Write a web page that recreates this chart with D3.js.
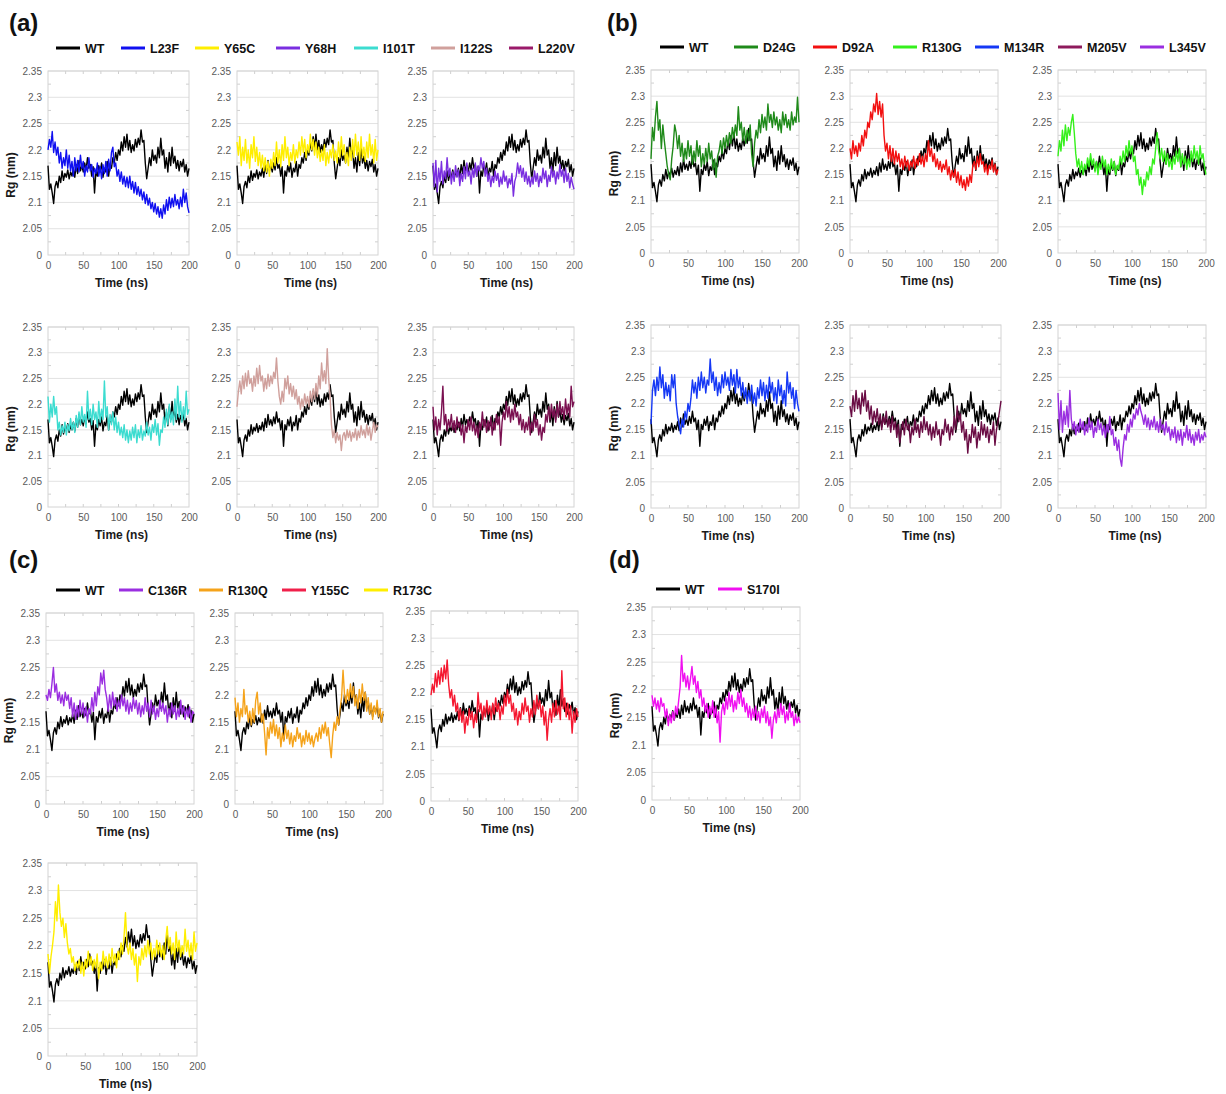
<!DOCTYPE html>
<html><head><meta charset="utf-8">
<script src="https://cdn.jsdelivr.net/npm/d3@7"></script>
<style>
body{margin:0;background:#fff;}
text{font-family:"Liberation Sans",Arial,sans-serif;}
</style></head>
<body>
<script>
// ---------------- DATA ----------------
const time = d3.range(0, 201, 2); // ns
const xTicks = [0, 50, 100, 150, 200];
const yTicks = [2.0, 2.05, 2.1, 2.15, 2.2, 2.25, 2.3, 2.35];
const yTickLabels = ["0", "2.05", "2.1", "2.15", "2.2", "2.25", "2.3", "2.35"];

const wt = [2.170,2.125,2.135,2.118,2.098,2.130,2.140,2.128,2.150,2.138,2.160,2.142,2.155,2.148,2.162,2.145,2.158,2.150,2.165,2.148,
2.172,2.155,2.180,2.160,2.170,2.158,2.175,2.162,2.185,2.165,2.172,2.150,2.168,2.118,2.160,2.150,2.170,2.158,2.175,2.148,
2.165,2.158,2.178,2.150,2.172,2.165,2.185,2.175,2.195,2.180,2.200,2.190,2.215,2.198,2.225,2.205,2.230,2.200,2.218,2.195,
2.210,2.198,2.220,2.205,2.222,2.210,2.238,2.215,2.218,2.175,2.145,2.165,2.185,2.170,2.200,2.180,2.190,2.175,2.205,2.185,
2.222,2.190,2.200,2.165,2.185,2.158,2.195,2.170,2.205,2.175,2.188,2.165,2.180,2.160,2.178,2.168,2.182,2.158,2.172,2.150,2.165];

const l23f = [2.200,2.220,2.205,2.235,2.195,2.215,2.190,2.205,2.175,2.195,2.165,2.185,2.170,2.200,2.165,2.190,2.160,2.178,2.150,2.185,
2.160,2.180,2.158,2.190,2.165,2.178,2.150,2.170,2.158,2.185,2.160,2.172,2.148,2.165,2.155,2.175,2.150,2.168,2.145,2.172,
2.155,2.178,2.150,2.182,2.160,2.195,2.205,2.168,2.175,2.150,2.162,2.140,2.158,2.135,2.150,2.130,2.148,2.128,2.150,2.125,
2.140,2.118,2.138,2.115,2.130,2.112,2.125,2.105,2.120,2.098,2.115,2.095,2.108,2.088,2.100,2.082,2.098,2.078,2.092,2.072,
2.088,2.070,2.095,2.078,2.105,2.085,2.110,2.090,2.108,2.092,2.115,2.095,2.105,2.088,2.110,2.092,2.125,2.100,2.118,2.092,2.080];

const y65c = [2.215,2.190,2.225,2.170,2.205,2.180,2.220,2.175,2.200,2.165,2.210,2.185,2.225,2.178,2.205,2.170,2.195,2.165,2.190,2.160,
2.185,2.158,2.178,2.150,2.182,2.165,2.195,2.170,2.215,2.175,2.200,2.168,2.210,2.180,2.225,2.185,2.205,2.170,2.195,2.180,
2.210,2.175,2.200,2.185,2.215,2.190,2.225,2.195,2.220,2.185,2.210,2.195,2.230,2.200,2.220,2.190,2.215,2.185,2.205,2.178,
2.200,2.180,2.210,2.170,2.195,2.175,2.200,2.185,2.210,2.180,2.198,2.175,2.215,2.185,2.225,2.190,2.210,2.175,2.195,2.170,
2.205,2.180,2.220,2.185,2.230,2.190,2.215,2.180,2.225,2.185,2.205,2.178,2.215,2.185,2.230,2.190,2.210,2.175,2.220,2.180,2.200];

const y68h = [2.175,2.130,2.180,2.120,2.165,2.140,2.178,2.135,2.160,2.145,2.185,2.150,2.165,2.135,2.158,2.140,2.170,2.148,2.162,2.132,
2.155,2.140,2.168,2.145,2.175,2.150,2.160,2.135,2.165,2.148,2.175,2.150,2.170,2.160,2.185,2.165,2.178,2.150,2.165,2.140,
2.155,2.130,2.150,2.138,2.160,2.142,2.155,2.130,2.148,2.135,2.160,2.140,2.150,2.128,2.145,2.135,2.155,2.112,2.140,2.150,
2.175,2.155,2.170,2.148,2.165,2.140,2.158,2.135,2.150,2.130,2.148,2.135,2.160,2.140,2.155,2.130,2.150,2.138,2.165,2.145,
2.160,2.130,2.152,2.140,2.168,2.148,2.160,2.135,2.158,2.145,2.172,2.150,2.162,2.138,2.165,2.140,2.155,2.128,2.148,2.135,2.125];

const i101t = [2.215,2.165,2.200,2.175,2.215,2.180,2.195,2.150,2.165,2.140,2.158,2.145,2.165,2.140,2.160,2.148,2.172,2.150,2.165,2.145,
2.178,2.155,2.185,2.160,2.195,2.165,2.180,2.155,2.225,2.170,2.190,2.160,2.200,2.170,2.185,2.155,2.205,2.165,2.190,2.170,
2.245,2.175,2.195,2.150,2.180,2.160,2.185,2.150,2.175,2.145,2.165,2.140,2.155,2.135,2.160,2.130,2.150,2.125,2.148,2.130,
2.155,2.135,2.160,2.125,2.150,2.135,2.158,2.130,2.148,2.138,2.165,2.140,2.155,2.130,2.160,2.145,2.170,2.140,2.162,2.120,
2.150,2.145,2.175,2.155,2.190,2.160,2.200,2.165,2.185,2.160,2.210,2.170,2.235,2.175,2.205,2.165,2.195,2.170,2.225,2.180,2.190];

const i122s = [2.195,2.225,2.245,2.220,2.255,2.230,2.260,2.235,2.265,2.240,2.250,2.225,2.255,2.235,2.270,2.240,2.275,2.245,2.255,2.225,
2.250,2.230,2.258,2.235,2.255,2.240,2.262,2.250,2.290,2.245,2.215,2.200,2.225,2.205,2.250,2.230,2.255,2.220,2.240,2.215,
2.235,2.210,2.228,2.200,2.215,2.190,2.210,2.195,2.220,2.200,2.215,2.195,2.225,2.205,2.230,2.210,2.240,2.215,2.255,2.230,
2.280,2.245,2.265,2.240,2.308,2.250,2.215,2.160,2.135,2.150,2.125,2.145,2.130,2.140,2.110,2.138,2.145,2.130,2.150,2.135,
2.148,2.128,2.145,2.135,2.152,2.130,2.148,2.135,2.158,2.140,2.150,2.135,2.160,2.140,2.155,2.130,2.148,2.165,2.145,2.160,2.155];

const l220v = [2.195,2.150,2.175,2.140,2.170,2.150,2.185,2.235,2.160,2.180,2.148,2.170,2.155,2.180,2.150,2.168,2.145,2.175,2.155,2.165,
2.140,2.160,2.125,2.158,2.145,2.170,2.150,2.175,2.148,2.165,2.140,2.158,2.135,2.165,2.150,2.185,2.155,2.170,2.145,2.168,
2.150,2.175,2.140,2.165,2.150,2.180,2.160,2.175,2.120,2.165,2.185,2.170,2.205,2.175,2.195,2.165,2.190,2.170,2.200,2.175,
2.185,2.160,2.180,2.150,2.170,2.145,2.165,2.150,2.175,2.140,2.165,2.148,2.180,2.155,2.170,2.140,2.160,2.130,2.155,2.145,
2.180,2.165,2.195,2.170,2.200,2.175,2.190,2.165,2.200,2.175,2.205,2.180,2.195,2.170,2.210,2.180,2.200,2.175,2.235,2.195,2.205];

const d24g = [2.180,2.240,2.215,2.260,2.290,2.235,2.255,2.200,2.245,2.215,2.190,2.165,2.150,2.140,2.180,2.205,2.245,2.230,2.200,2.225,
2.185,2.210,2.175,2.200,2.180,2.215,2.185,2.205,2.170,2.195,2.175,2.215,2.185,2.205,2.165,2.190,2.170,2.200,2.175,2.210,
2.180,2.195,2.160,2.180,2.145,2.185,2.195,2.215,2.190,2.220,2.200,2.225,2.205,2.230,2.210,2.240,2.220,2.245,2.225,2.280,
2.235,2.250,2.215,2.240,2.210,2.235,2.215,2.245,2.190,2.165,2.210,2.235,2.220,2.255,2.230,2.265,2.240,2.260,2.235,2.285,
2.250,2.265,2.240,2.270,2.245,2.260,2.235,2.255,2.230,2.270,2.245,2.265,2.240,2.255,2.235,2.270,2.245,2.260,2.250,2.298,2.250];

const d92a = [2.200,2.180,2.215,2.190,2.205,2.185,2.210,2.195,2.225,2.205,2.235,2.220,2.250,2.240,2.270,2.255,2.285,2.270,2.305,2.265,
2.290,2.260,2.285,2.225,2.195,2.210,2.180,2.205,2.175,2.200,2.170,2.195,2.175,2.190,2.165,2.180,2.160,2.185,2.165,2.178,
2.158,2.175,2.165,2.185,2.162,2.180,2.168,2.190,2.170,2.185,2.165,2.190,2.175,2.215,2.185,2.200,2.175,2.190,2.165,2.180,
2.160,2.175,2.155,2.170,2.160,2.178,2.150,2.165,2.140,2.158,2.145,2.160,2.135,2.155,2.130,2.148,2.125,2.140,2.120,2.145,
2.128,2.150,2.135,2.168,2.175,2.160,2.185,2.165,2.190,2.170,2.175,2.155,2.170,2.150,2.168,2.160,2.178,2.155,2.170,2.150,2.160];

const r130g = [2.185,2.215,2.195,2.235,2.205,2.245,2.215,2.240,2.225,2.250,2.265,2.230,2.190,2.165,2.180,2.155,2.175,2.150,2.170,2.160,
2.182,2.165,2.190,2.168,2.180,2.155,2.175,2.150,2.172,2.160,2.185,2.165,2.178,2.150,2.170,2.155,2.180,2.160,2.175,2.150,
2.168,2.160,2.185,2.170,2.195,2.175,2.205,2.185,2.215,2.190,2.205,2.175,2.185,2.150,2.160,2.130,2.145,2.112,2.140,2.128,
2.155,2.140,2.165,2.150,2.180,2.170,2.200,2.230,2.195,2.180,2.200,2.175,2.195,2.170,2.190,2.165,2.180,2.160,2.185,2.170,
2.195,2.175,2.200,2.165,2.190,2.170,2.185,2.160,2.180,2.165,2.195,2.175,2.205,2.180,2.195,2.170,2.205,2.180,2.190,2.165,2.150];

const m134r = [2.160,2.225,2.245,2.215,2.250,2.225,2.270,2.230,2.255,2.210,2.240,2.215,2.235,2.205,2.255,2.230,2.255,2.200,2.175,2.160,
2.142,2.170,2.155,2.185,2.170,2.200,2.185,2.210,2.245,2.220,2.240,2.210,2.250,2.225,2.260,2.230,2.250,2.220,2.245,2.235,
2.285,2.240,2.260,2.225,2.250,2.215,2.240,2.220,2.255,2.230,2.260,2.235,2.250,2.225,2.265,2.235,2.255,2.220,2.265,2.230,
2.250,2.215,2.240,2.210,2.230,2.200,2.225,2.205,2.235,2.200,2.220,2.195,2.230,2.210,2.245,2.215,2.240,2.205,2.235,2.210,
2.250,2.220,2.240,2.205,2.230,2.200,2.245,2.215,2.235,2.200,2.225,2.195,2.260,2.220,2.240,2.210,2.230,2.190,2.225,2.200,2.185];

const m205v = [2.195,2.175,2.215,2.185,2.225,2.190,2.210,2.180,2.220,2.195,2.225,2.185,2.205,2.170,2.195,2.160,2.185,2.165,2.190,2.160,
2.180,2.150,2.175,2.160,2.185,2.155,2.170,2.145,2.175,2.150,2.165,2.135,2.160,2.125,2.150,2.165,2.140,2.170,2.150,2.160,
2.125,2.155,2.140,2.170,2.145,2.160,2.135,2.165,2.145,2.175,2.150,2.165,2.140,2.160,2.130,2.155,2.135,2.165,2.140,2.150,
2.120,2.150,2.140,2.170,2.145,2.160,2.130,2.155,2.140,2.175,2.150,2.195,2.165,2.180,2.145,2.165,2.130,2.150,2.105,2.140,
2.125,2.160,2.135,2.155,2.115,2.145,2.130,2.165,2.140,2.160,2.135,2.155,2.125,2.150,2.140,2.165,2.120,2.150,2.165,2.185,2.205];

const l345v = [2.220,2.150,2.205,2.145,2.185,2.160,2.195,2.155,2.225,2.170,2.150,2.165,2.140,2.160,2.145,2.170,2.150,2.165,2.140,2.160,
2.145,2.172,2.150,2.165,2.135,2.155,2.145,2.170,2.150,2.162,2.140,2.158,2.135,2.160,2.145,2.175,2.140,2.150,2.120,2.135,
2.110,2.130,2.095,2.080,2.115,2.140,2.130,2.160,2.145,2.170,2.155,2.180,2.170,2.190,2.178,2.200,2.185,2.175,2.160,2.178,
2.155,2.172,2.150,2.168,2.155,2.175,2.150,2.165,2.145,2.170,2.150,2.160,2.140,2.165,2.145,2.155,2.130,2.150,2.135,2.155,
2.125,2.148,2.130,2.150,2.120,2.145,2.135,2.158,2.130,2.150,2.125,2.140,2.120,2.145,2.130,2.150,2.125,2.140,2.130,2.145,2.135];

const c136r = [2.200,2.190,2.210,2.195,2.220,2.250,2.205,2.220,2.190,2.205,2.185,2.200,2.180,2.205,2.190,2.200,2.175,2.195,2.160,2.185,
2.155,2.180,2.160,2.190,2.165,2.185,2.160,2.178,2.150,2.175,2.165,2.195,2.170,2.205,2.180,2.215,2.200,2.240,2.220,2.245,
2.210,2.195,2.170,2.200,2.175,2.205,2.180,2.195,2.170,2.190,2.175,2.200,2.180,2.195,2.170,2.190,2.165,2.185,2.170,2.195,
2.175,2.190,2.165,2.185,2.160,2.180,2.165,2.195,2.170,2.185,2.160,2.190,2.165,2.180,2.155,2.175,2.160,2.190,2.170,2.185,
2.165,2.180,2.150,2.175,2.160,2.185,2.165,2.180,2.155,2.175,2.160,2.190,2.165,2.180,2.155,2.175,2.160,2.178,2.150,2.170,2.165];

const r130q = [2.195,2.160,2.185,2.150,2.175,2.160,2.210,2.165,2.180,2.150,2.170,2.145,2.175,2.150,2.190,2.205,2.165,2.185,2.150,2.165,
2.130,2.090,2.140,2.120,2.150,2.130,2.155,2.125,2.145,2.120,2.140,2.105,2.130,2.115,2.145,2.120,2.135,2.110,2.130,2.105,
2.125,2.115,2.140,2.120,2.130,2.105,2.125,2.110,2.135,2.115,2.130,2.110,2.125,2.105,2.120,2.130,2.115,2.140,2.120,2.145,
2.130,2.150,2.125,2.140,2.110,2.085,2.125,2.150,2.135,2.160,2.145,2.175,2.195,2.245,2.200,2.185,2.210,2.190,2.220,2.195,
2.215,2.180,2.200,2.175,2.210,2.185,2.220,2.190,2.205,2.170,2.195,2.165,2.185,2.155,2.180,2.165,2.190,2.160,2.175,2.150,2.170];

const y155c = [2.195,2.215,2.200,2.235,2.210,2.240,2.215,2.245,2.220,2.250,2.225,2.260,2.215,2.190,2.205,2.175,2.195,2.165,2.180,2.150,
2.170,2.145,2.165,2.125,2.155,2.140,2.170,2.150,2.165,2.135,2.160,2.145,2.200,2.165,2.180,2.150,2.175,2.155,2.185,2.160,
2.175,2.150,2.180,2.160,2.190,2.165,2.180,2.150,2.175,2.160,2.195,2.175,2.205,2.180,2.195,2.165,2.180,2.150,2.170,2.140,
2.165,2.150,2.180,2.160,2.190,2.165,2.175,2.145,2.170,2.155,2.185,2.160,2.195,2.170,2.185,2.155,2.175,2.140,2.165,2.112,
2.150,2.170,2.145,2.180,2.155,2.185,2.160,2.175,2.150,2.240,2.170,2.190,2.155,2.180,2.150,2.175,2.125,2.165,2.145,2.170,2.155];

const r173c = [2.185,2.150,2.180,2.200,2.225,2.280,2.245,2.310,2.260,2.235,2.250,2.215,2.240,2.205,2.185,2.195,2.170,2.180,2.155,2.170,
2.160,2.175,2.150,2.170,2.145,2.175,2.160,2.190,2.165,2.180,2.155,2.175,2.160,2.185,2.140,2.170,2.155,2.190,2.165,2.180,
2.160,2.185,2.165,2.195,2.170,2.185,2.160,2.190,2.175,2.205,2.185,2.215,2.260,2.200,2.185,2.205,2.175,2.195,2.165,2.185,
2.135,2.180,2.165,2.195,2.175,2.200,2.180,2.210,2.185,2.205,2.175,2.195,2.180,2.210,2.185,2.205,2.180,2.200,2.175,2.210,
2.235,2.195,2.215,2.185,2.205,2.175,2.225,2.190,2.210,2.180,2.200,2.185,2.230,2.190,2.210,2.180,2.205,2.175,2.225,2.190,2.205];

const s170i = [2.190,2.170,2.185,2.165,2.180,2.160,2.185,2.170,2.175,2.150,2.165,2.135,2.155,2.140,2.160,2.145,2.170,2.155,2.180,2.205,
2.262,2.215,2.230,2.205,2.225,2.200,2.220,2.242,2.210,2.225,2.195,2.215,2.185,2.200,2.170,2.185,2.160,2.175,2.150,2.170,
2.155,2.180,2.150,2.170,2.140,2.160,2.105,2.160,2.175,2.155,2.185,2.165,2.195,2.170,2.190,2.160,2.180,2.165,2.195,2.175,
2.200,2.170,2.185,2.160,2.175,2.150,2.170,2.145,2.165,2.150,2.170,2.145,2.160,2.140,2.165,2.150,2.170,2.140,2.160,2.135,
2.150,2.112,2.145,2.160,2.140,2.165,2.150,2.175,2.155,2.170,2.140,2.160,2.145,2.175,2.150,2.160,2.135,2.155,2.140,2.150,2.140];

const mutantSeries = {
  L23F: l23f, Y65C: y65c, Y68H: y68h, I101T: i101t, I122S: i122s, L220V: l220v,
  D24G: d24g, D92A: d92a, R130G: r130g, M134R: m134r, M205V: m205v, L345V: l345v,
  C136R: c136r, R130Q: r130q, Y155C: y155c, R173C: r173c, S170I: s170i
};

const legendA = ["WT", "L23F", "Y65C", "Y68H", "I101T", "I122S", "L220V"];
const legendB = ["WT", "D24G", "D92A", "R130G", "M134R", "M205V", "L345V"];
const legendC = ["WT", "C136R", "R130Q", "Y155C", "R173C"];
const legendD = ["WT", "S170I"];

// ---------------- STYLE / LAYOUT ----------------
const colors = {
  WT: "#000000", L23F: "#1010f0", Y65C: "#ffee00", Y68H: "#7a2ee0", I101T: "#3cdcd0",
  I122S: "#d0a09c", L220V: "#7a1050", D24G: "#1f8a1a", D92A: "#f21010", R130G: "#35f01c",
  M134R: "#1538f5", M205V: "#6a0c44", L345V: "#9a2ee0", C136R: "#9a2ee0", R130Q: "#f5a31a",
  Y155C: "#f51830", R173C: "#ffee00", S170I: "#f010f0"
};
const legendColors = Object.assign({}, colors, { L220V: "#9a1a6a", M205V: "#8e1a5c", Y155C: "#f0204a" });

const panels = [
  {m: "L23F", x0: 48, x1: 189, y0: 71, y1: 255, ylab: true},
  {m: "Y65C", x0: 237, x1: 378, y0: 71, y1: 255},
  {m: "Y68H", x0: 433, x1: 574, y0: 71, y1: 255},
  {m: "I101T", x0: 48, x1: 189, y0: 327, y1: 507, ylab: true},
  {m: "I122S", x0: 237, x1: 378, y0: 327, y1: 507},
  {m: "L220V", x0: 433, x1: 574, y0: 327, y1: 507},
  {m: "D24G", x0: 651, x1: 799, y0: 70, y1: 253, ylab: true},
  {m: "D92A", x0: 850, x1: 998, y0: 70, y1: 253},
  {m: "R130G", x0: 1058, x1: 1206, y0: 70, y1: 253},
  {m: "M134R", x0: 651, x1: 799, y0: 325, y1: 508, ylab: true},
  {m: "M205V", x0: 850, x1: 1001, y0: 325, y1: 508},
  {m: "L345V", x0: 1058, x1: 1206, y0: 325, y1: 508},
  {m: "C136R", x0: 46, x1: 194, y0: 613, y1: 804, ylab: true},
  {m: "R130Q", x0: 235, x1: 383, y0: 613, y1: 804},
  {m: "Y155C", x0: 431, x1: 578, y0: 611, y1: 801},
  {m: "R173C", x0: 48, x1: 197, y0: 863, y1: 1056},
  {m: "S170I", x0: 652, x1: 800, y0: 607, y1: 800, ylab: true}
];

const legends = [
  {items: legendA, xs: [56, 121, 195, 276, 354, 431, 509], y: 48},
  {items: legendB, xs: [660, 734, 813, 893, 975, 1058, 1140], y: 47},
  {items: legendC, xs: [56, 119, 199, 282, 364], y: 590},
  {items: legendD, xs: [656, 718], y: 589}
];
const panelLabels = [
  {t: "(a)", x: 9, y: 31}, {t: "(b)", x: 607, y: 31},
  {t: "(c)", x: 9, y: 568}, {t: "(d)", x: 609, y: 568}
];

// ---------------- DRAW ----------------
const svg = d3.select("body").append("svg").attr("width", 1226).attr("height", 1094);
svg.append("rect").attr("width", 1226).attr("height", 1094).attr("fill", "#fff");

panelLabels.forEach(p => {
  svg.append("text").attr("x", p.x).attr("y", p.y).text(p.t)
    .attr("font-size", 24).attr("font-weight", "bold").attr("fill", "#111");
});

legends.forEach(L => {
  L.items.forEach((name, i) => {
    const g = svg.append("g").attr("transform", `translate(${L.xs[i]},${L.y})`);
    g.append("line").attr("x1", 0).attr("x2", 24).attr("y1", 0).attr("y2", 0)
      .attr("stroke", legendColors[name]).attr("stroke-width", 3);
    g.append("text").attr("x", 29).attr("y", 0).attr("dy", "0.36em").text(name)
      .attr("font-size", 12.5).attr("font-weight", "bold").attr("fill", "#111");
  });
});

panels.forEach(p => {
  const x = d3.scaleLinear().domain([0, 200]).range([p.x0, p.x1]);
  const y = d3.scaleLinear().domain([2.0, 2.35]).range([p.y1, p.y0]);
  const g = svg.append("g");

  // gridlines
  g.selectAll(".grid").data(yTicks.slice(1)).join("line")
    .attr("x1", p.x0).attr("x2", p.x1)
    .attr("y1", d => y(d)).attr("y2", d => y(d))
    .attr("stroke", "#e2e2e2").attr("stroke-width", 1);

  // minor ticks
  const xMinor = d3.range(25, 200, 25);
  g.selectAll(".mxb").data(xMinor).join("line")
    .attr("x1", d => x(d)).attr("x2", d => x(d))
    .attr("y1", p.y1).attr("y2", p.y1 - 3).attr("stroke", "#cfcfcf");
  g.selectAll(".mxt").data(xMinor).join("line")
    .attr("x1", d => x(d)).attr("x2", d => x(d))
    .attr("y1", p.y0).attr("y2", p.y0 + 3).attr("stroke", "#cfcfcf");
  const yMinor = yTicks.slice(0, -1).map(v => v + 0.025);
  g.selectAll(".myl").data(yMinor).join("line")
    .attr("x1", p.x0).attr("x2", p.x0 + 3)
    .attr("y1", d => y(d)).attr("y2", d => y(d)).attr("stroke", "#cfcfcf");
  g.selectAll(".myr").data(yMinor).join("line")
    .attr("x1", p.x1).attr("x2", p.x1 - 3)
    .attr("y1", d => y(d)).attr("y2", d => y(d)).attr("stroke", "#cfcfcf");

  // frame
  g.append("rect").attr("x", p.x0).attr("y", p.y0)
    .attr("width", p.x1 - p.x0).attr("height", p.y1 - p.y0)
    .attr("fill", "none").attr("stroke", "#d4d4d4").attr("stroke-width", 1);

  // axes
  const ax = g.append("g").attr("transform", `translate(0,${p.y1})`)
    .call(d3.axisBottom(x).tickValues(xTicks).tickSize(0).tickPadding(7).tickFormat(d3.format("d")));
  const ay = g.append("g").attr("transform", `translate(${p.x0},0)`)
    .call(d3.axisLeft(y).tickValues(yTicks).tickSize(0).tickPadding(6)
      .tickFormat((d, i) => yTickLabels[i]));
  [ax, ay].forEach(a => {
    a.select(".domain").remove();
    a.selectAll("text").attr("font-size", 10).attr("fill", "#5a5a5a")
      .attr("font-family", '"Liberation Sans",Arial,sans-serif');
  });

  // lines
  const line = d3.line().x((d, i) => x(time[i])).y(d => y(d));
  g.append("path").datum(wt).attr("d", line).attr("fill", "none")
    .attr("stroke", colors.WT).attr("stroke-width", 1.4).attr("stroke-linejoin", "round");
  g.append("path").datum(mutantSeries[p.m]).attr("d", line).attr("fill", "none")
    .attr("stroke", colors[p.m]).attr("stroke-width", 1.4).attr("stroke-linejoin", "round");

  // titles
  g.append("text").attr("x", (p.x0 + p.x1) / 2 + 3).attr("y", p.y1 + 32)
    .attr("text-anchor", "middle").text("Time (ns)")
    .attr("font-size", 12).attr("font-weight", "bold").attr("fill", "#1a1a1a");
  if (p.ylab) {
    const cx = p.x0 - 33, cy = (p.y0 + p.y1) / 2 + 12;
    g.append("text").attr("transform", `translate(${cx},${cy}) rotate(-90)`)
      .attr("text-anchor", "middle").text("Rg (nm)")
      .attr("font-size", 12).attr("font-weight", "bold").attr("fill", "#1a1a1a");
  }
});
</script>
</body></html>
